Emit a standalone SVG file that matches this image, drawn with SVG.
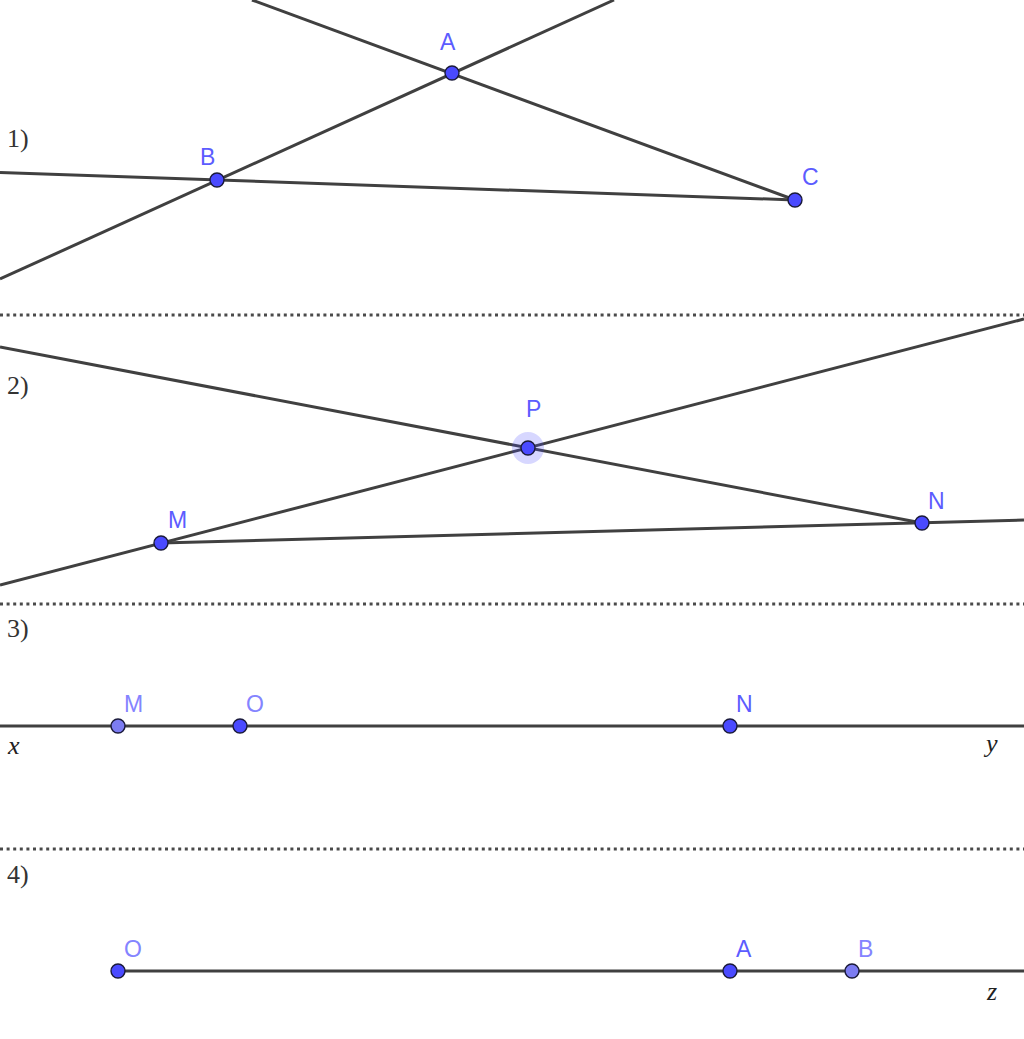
<svg xmlns="http://www.w3.org/2000/svg" width="1024" height="1039" viewBox="0 0 1024 1039">
<style>
.ln{stroke:#404040;stroke-width:3;fill:none;stroke-linecap:butt}
.dot{stroke:#4a4a4a;stroke-width:3;stroke-dasharray:3 3.6;fill:none}
.pt{fill:#4a4aff;stroke:#1a1a3a;stroke-width:1.4}
.pt2{fill:#7c7cf2;stroke:#1a1a3a;stroke-width:1.4}
.lb{font-family:"Liberation Sans",Arial,sans-serif;font-size:23px;fill:#5c5cff}
.lb2{font-family:"Liberation Sans",Arial,sans-serif;font-size:23px;fill:#8484ff}
.sec{font-family:"Liberation Serif","Times New Roman",serif;font-size:26px;fill:#333}
.var{font-family:"Liberation Serif","Times New Roman",serif;font-size:26px;font-style:italic;fill:#222}
</style>
<rect width="1024" height="1039" fill="#ffffff"/>
<g id="separators">
<line class="dot" x1="0" y1="315" x2="1024" y2="315"/>
<line class="dot" x1="0" y1="604" x2="1024" y2="604"/>
<line class="dot" x1="0" y1="849" x2="1024" y2="849"/>
</g>
<g id="connectors">
<line class="ln" x1="0" y1="279" x2="614" y2="0"/>
<line class="ln" x1="795" y1="200" x2="252" y2="0"/>
<line class="ln" x1="795" y1="200" x2="0" y2="172.5"/>
<line class="ln" x1="0" y1="585" x2="1024" y2="319"/>
<line class="ln" x1="922" y1="523" x2="0" y2="347"/>
<line class="ln" x1="161" y1="543" x2="1024" y2="520"/>
<line class="ln" x1="0" y1="726" x2="1024" y2="726"/>
<line class="ln" x1="118" y1="971" x2="1024" y2="971"/>
</g>
<g id="section-labels">
<text class="sec" x="7" y="147">1)</text>
<text class="sec" x="7" y="394">2)</text>
<text class="sec" x="7" y="637">3)</text>
<text class="sec" x="7" y="883">4)</text>
<text class="var" x="8" y="754">x</text>
<text class="var" x="986" y="752">y</text>
<text class="var" x="987" y="1000">z</text>
</g>
<g id="node-A1"><circle class="pt" cx="452" cy="73" r="7"/><text class="lb" x="440" y="50">A</text></g>
<g id="node-B1"><circle class="pt" cx="217" cy="180" r="7"/><text class="lb" x="200" y="165">B</text></g>
<g id="node-C1"><circle class="pt" cx="795" cy="200" r="7"/><text class="lb" x="802" y="185">C</text></g>
<g id="node-P"><circle cx="528" cy="448" r="16" fill="#4a4aff" fill-opacity="0.22"/><circle class="pt" cx="528" cy="448" r="7"/><text class="lb" x="526" y="417">P</text></g>
<g id="node-M2"><circle class="pt" cx="161" cy="543" r="7"/><text class="lb" x="168" y="528">M</text></g>
<g id="node-N2"><circle class="pt" cx="922" cy="523" r="7"/><text class="lb" x="928" y="509">N</text></g>
<g id="node-M3"><circle class="pt2" cx="118" cy="726" r="7"/><text class="lb2" x="124" y="712">M</text></g>
<g id="node-O3"><circle class="pt" cx="240" cy="726" r="7"/><text class="lb2" x="246" y="712">O</text></g>
<g id="node-N3"><circle class="pt" cx="730" cy="726" r="7"/><text class="lb" x="736" y="712">N</text></g>
<g id="node-O4"><circle class="pt" cx="118" cy="971" r="7"/><text class="lb2" x="124" y="957">O</text></g>
<g id="node-A4"><circle class="pt" cx="730" cy="971" r="7"/><text class="lb" x="736" y="957">A</text></g>
<g id="node-B4"><circle class="pt2" cx="852" cy="971" r="7"/><text class="lb2" x="858" y="957">B</text></g>
</svg>
